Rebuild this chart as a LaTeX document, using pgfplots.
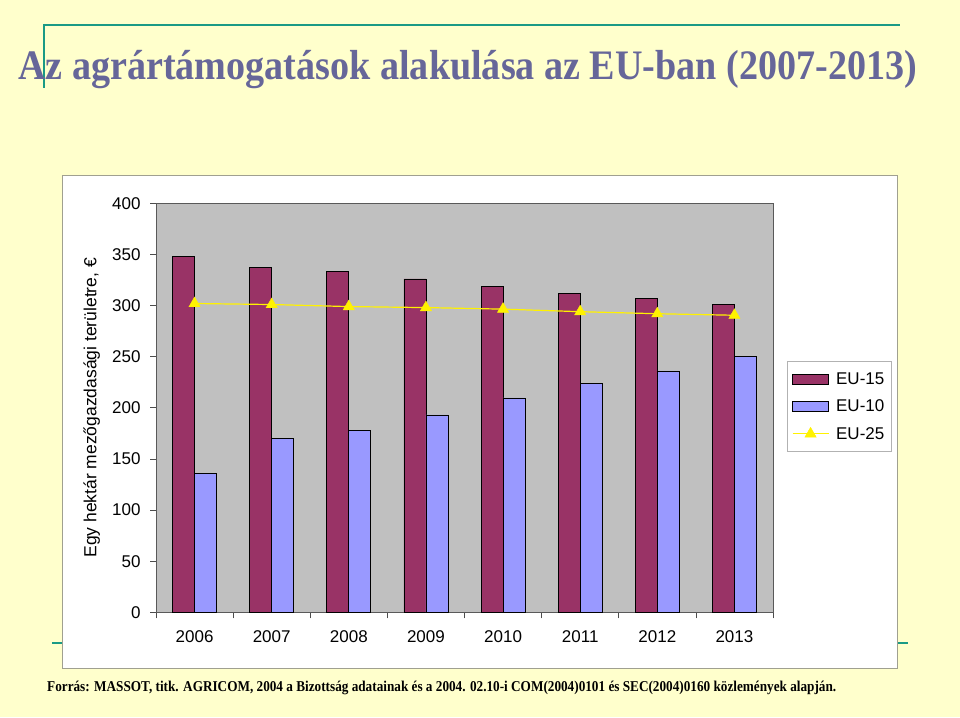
\documentclass[border=0pt]{standalone}
\usepackage{pgfplots}
\pgfplotsset{compat=1.18}
\usepackage{fontspec}
\setmainfont{Liberation Sans}
\newfontfamily\serifb{Liberation Serif}
\definecolor{bgy}{HTML}{FFFFCC}
\definecolor{teal2}{HTML}{1A9A85}
\definecolor{titlec}{HTML}{666699}
\definecolor{eufif}{HTML}{993366}
\definecolor{euten}{HTML}{9999FF}
\definecolor{plotbg}{HTML}{C0C0C0}
\definecolor{framec}{HTML}{A0A090}
\pgfplotsset{
  barlegend/.style={legend image code/.code={\draw[##1] (0pt,-5pt) rectangle (36pt,5pt);}},
  linelegend/.style={legend image code/.code={\draw[mark repeat=2,mark phase=2,##1] plot coordinates {(0pt,0pt) (18pt,0pt) (36pt,0pt)};}},
}
\begin{document}
\begin{tikzpicture}[x=1pt,y=1pt]
\fill[bgy] (0,0) rectangle (960,717);
\draw[teal2,line width=2.5pt] (43,692) -- (900,692);
\draw[teal2,line width=2pt] (44,693) -- (44,629);
\draw[teal2,line width=2.5pt] (52,74) -- (908,74);
\draw[framec, fill=white, line width=0.8pt] (62,49) rectangle (897,542);
\node[anchor=base west, inner sep=0, text=titlec] at (18,637) {\resizebox{899pt}{\height}{\fontsize{42}{48}\selectfont\serifb\bfseries Az agrártámogatások alakulása az EU-ban (2007-2013)}};
\node[anchor=base west, inner sep=0] at (47,26) {\resizebox{789pt}{\height}{\fontsize{15}{17}\selectfont\serifb\bfseries Forrás: MASSOT, titk. AGRICOM, 2004 a Bizottság adatainak és a 2004. 02.10-i COM(2004)0101 és SEC(2004)0160 közlemények alapján.}};
\begin{axis}[
  at={(156pt,104.7pt)}, anchor=south west,
  scale only axis, width=617pt, height=409pt,
  xmin=-0.5, xmax=7.5, ymin=0, ymax=400,
  ytick={0,50,...,400},
  xtick={0,...,7}, xticklabels={2006,2007,2008,2009,2010,2011,2012,2013},
  minor xtick={-0.5,0.5,...,7.5},
  tick align=outside,
  xtick pos=bottom, ytick pos=left,
  major tick length=6pt, minor tick length=6pt,
  major x tick style={draw=none},
  tick style={draw=gray!60!black, line width=0.6pt},
  axis background/.style={fill=plotbg},
  axis line style={draw=gray!70!black, line width=0.8pt},
  /pgf/number format/assume math mode=true,
  ticklabel style={font=\fontsize{17}{20}\selectfont},
  xticklabel style={yshift=-9pt},
  yticklabel style={xshift=-6pt},
  ybar, bar width=22pt,
  ylabel={Egy hektár mezőgazdasági területre, €},
  every axis y label/.style={at={(axis description cs:-0.104,0.5)}, rotate=90, anchor=center, font=\fontsize{17.5}{20}\selectfont},
  legend style={at={(axis description cs:1.0223,0.6135)}, anchor=north west, draw=gray!60, fill=white, font=\fontsize{17}{20}\selectfont, row sep=10pt, inner xsep=5pt, inner ysep=9pt,
    /tikz/every odd column/.append style={column sep=5pt}},
  legend cell align=left,
]
\addplot[fill=eufif, draw=black, line width=0.8pt, bar shift=-11pt, barlegend]
  coordinates {(0,348) (1,337) (2,333) (3,326) (4,319) (5,312) (6,307) (7,301.5)};
\addlegendentry{EU-15}
\addplot[fill=euten, draw=black, line width=0.8pt, bar shift=11pt, barlegend]
  coordinates {(0,136) (1,170) (2,177.6) (3,193) (4,209.6) (5,224) (6,236) (7,250)};
\addlegendentry{EU-10}
\addplot[sharp plot, draw=yellow, line width=1.2pt, mark=triangle*, mark size=6.5pt, mark options={fill=yellow, draw=yellow, line width=0.4pt}, linelegend]
  coordinates {(0,302) (1,301) (2,299) (3,298) (4,296.5) (5,294) (6,292) (7,290.5)};
\addlegendentry{EU-25}
\end{axis}
\pgfresetboundingbox
\path (0,0) rectangle (960,717);
\end{tikzpicture}
\end{document}
